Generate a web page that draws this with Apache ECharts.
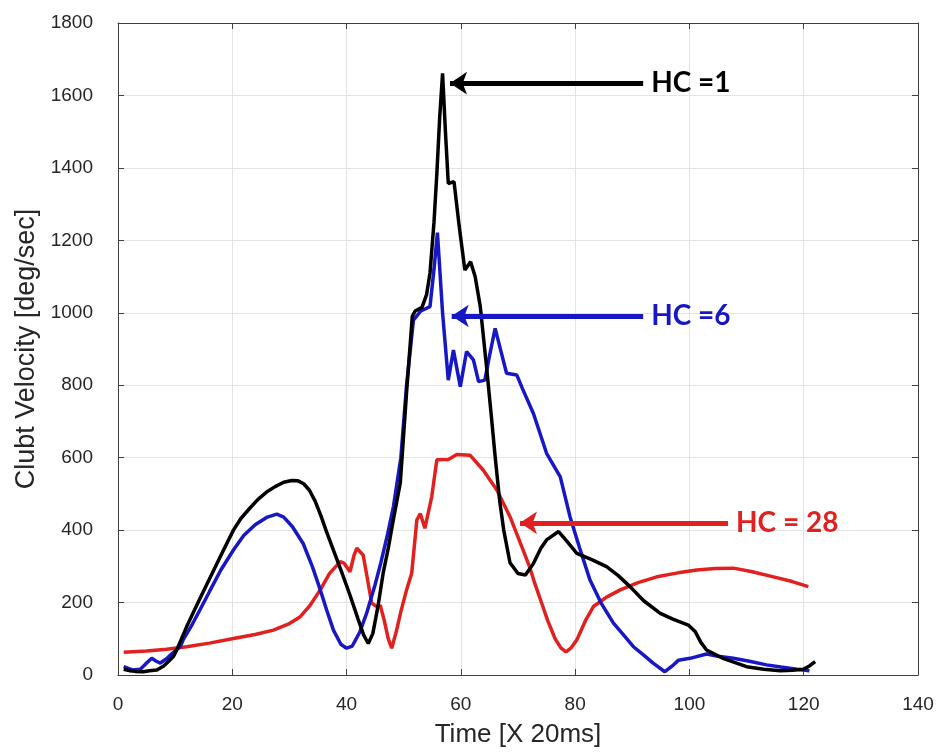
<!DOCTYPE html>
<html>
<head>
<meta charset="utf-8">
<script src="https://cdn.jsdelivr.net/npm/echarts@6/dist/echarts.min.js"></script>
<style>html,body{margin:0;padding:0;background:#fff}#c{width:938px;height:753px}</style>
</head>
<body>
<div id="c"></div>
<script>
// ---- data: [time (x20ms), velocity deg/sec] ----
var xTicks = [0, 20, 40, 60, 80, 100, 120, 140];
var yTicks = [0, 200, 400, 600, 800, 1000, 1200, 1400, 1600, 1800];

var hc1 = [[1,16],[2,12],[3,10],[4.4,9],[5.5,12],[6.8,14],[8,25],[9,40],[9.7,51],[10.3,70],[12,133],[14.3,210],[16,265],[18,330],[20.2,400],[21.5,432],[23.1,461],[24.5,485],[26,505],[27.5,520],[29,532],[30.4,537],[31.5,536],[32.5,528],[33.5,510],[34.5,480],[35.5,440],[36.5,395],[37.7,345],[39,290],[40.5,225],[42,155],[43,110],[43.8,87],[44.6,115],[45.5,190],[46.4,281],[47.3,350],[48.2,430],[49.4,530],[50.5,780],[51.5,990],[52,1005],[53.2,1015],[54,1050],[54.6,1110],[55.3,1250],[55.8,1385],[56.3,1540],[56.8,1661],[57.3,1500],[57.8,1357],[58.8,1362],[59.7,1240],[60.7,1118],[61.7,1141],[62.5,1100],[63.4,1017],[64.5,850],[65.3,720],[66,603],[66.8,480],[67.5,400],[68.6,310],[70,280],[71.3,276],[72.7,308],[74,350],[75,373],[77.1,396],[78.5,370],[80.3,336],[83,318],[85.5,299],[87.5,275],[89.6,244],[92,205],[94.9,170],[97,155],[99.8,138],[101,120],[102,90],[103,69],[106,45],[110,23],[113,16],[115.9,12],[118,13],[119.9,16],[121,25],[122,37]];

var hc6 = [[1,23],[2.5,14],[3.9,16],[4.8,30],[5.9,46],[6.7,38],[7.4,33],[8.5,45],[9.5,60],[10.9,78],[11.4,97],[13,140],[14.35,180],[16,230],[18,290],[20.2,345],[22,385],[24,415],[26,435],[27.8,444],[29,436],[30.5,410],[32.4,363],[34,300],[35.4,235],[36.5,180],[37.7,124],[39,85],[40,74],[41,80],[42.3,118],[43.5,170],[45,250],[46,310],[47.2,390],[48.2,465],[49.5,600],[50.5,800],[51.7,980],[53,1005],[54.6,1017],[55.3,1120],[55.9,1221],[56.8,1000],[57.8,814],[58.7,897],[59.9,796],[61,893],[62.2,870],[63.1,810],[64.2,814],[65,880],[66,957],[67,895],[68,833],[69.8,828],[70.8,790],[72.7,722],[75,612],[77.4,547],[79.1,437],[80.8,350],[82.6,262],[84.5,200],[86.7,143],[88.5,110],[90.2,78],[92,55],[93.7,32],[95.7,9],[97,25],[98.1,41],[100.1,46],[103,58],[105,52],[107.7,46],[110.5,38],[113.5,28],[116,22],[118.8,16],[121,12]];

var hc28 = [[1,63],[5,66],[8.5,71],[12,78],[16,88],[20.2,101],[24,112],[27.2,124],[30,142],[31.9,161],[33.5,190],[35.4,235],[37,280],[38.9,313],[39.6,308],[40.6,285],[41.3,330],[41.8,350],[42.9,331],[43.6,270],[44.4,198],[45.3,189],[45.9,192],[46.6,150],[47.3,100],[47.9,74],[48.7,120],[49.5,175],[50.5,235],[51.4,281],[52.3,428],[52.9,446],[53.7,405],[54.9,492],[55.8,594],[57.8,595],[59.3,609],[61.6,607],[63.9,566],[66.3,511],[68.6,437],[70.9,345],[72,300],[73,250],[74,205],[75.2,150],[76.5,100],[77.5,75],[78.4,64],[79.3,75],[80.3,97],[81.8,150],[83.2,189],[85.5,215],[87.9,235],[91,255],[94.3,271],[98,282],[101.3,290],[104.5,294],[107.7,295],[111,285],[114.7,271],[118,258],[120.8,244]];

// annotation arrows: [tipX, endX, y, label]
var ann1 = [58.1, 91.9, 1634, 'HC =1'];
var ann6 = [58.4, 91.9, 991, 'HC =6'];
var ann28 = [70.35, 106.75, 420, 'HC = 28'];

var BLACK = '#000000', BLUE = '#1717c4', RED = '#e0211f';

function arrow(a, color) {
  return {
    silent: true,
    animation: false,
    symbol: ['arrow', 'none'],
    symbolSize: 17,
    lineStyle: { color: color, width: 5, type: 'solid' },
    itemStyle: { color: color },
    label: {
      show: true, position: 'end', distance: 8,
      formatter: a[3], color: color,
      fontFamily: 'Lato', fontWeight: 'bold', fontSize: 28
    },
    emphasis: { disabled: true },
    data: [[
      { coord: [a[0], a[2]], symbol: 'arrow', symbolSize: 17 },
      { coord: [a[1], a[2]], symbol: 'none' }
    ]]
  };
}

function lineSeries(name, data, color, ann) {
  return {
    name: name, type: 'line', data: data, showSymbol: false, symbol: 'none',
    lineStyle: { color: color, width: 3.5 }, itemStyle: { color: color },
    animation: false, z: 3,
    markLine: arrow(ann, color)
  };
}

var chart = echarts.init(document.getElementById('c'), null, { renderer: 'canvas' });
var labelFont = { fontFamily: 'Liberation Sans', fontSize: 19, color: '#262626', formatter: function (v) { return String(v); } };
chart.setOption({
  backgroundColor: '#ffffff',
  grid: { left: 118, right: 20, top: 23, bottom: 78, containLabel: false },
  xAxis: [{
    type: 'value', min: xTicks[0], max: xTicks[xTicks.length - 1], interval: 20,
    name: 'Time [X 20ms]', nameLocation: 'middle', nameGap: 47,
    nameTextStyle: { fontFamily: 'Liberation Sans', fontSize: 26, color: '#262626' },
    axisLine: { show: true, onZero: false, lineStyle: { color: '#404040', width: 1 } },
    axisTick: { show: true, inside: true, length: 6, lineStyle: { color: '#404040' } },
    axisLabel: Object.assign({ margin: 20 }, labelFont),
    splitLine: { show: true, lineStyle: { color: '#e3e3e3', width: 1 } }
  }, {
    type: 'value', position: 'top', min: 0, max: 140, interval: 20,
    axisLine: { show: true, onZero: false, lineStyle: { color: '#404040', width: 1 } },
    axisTick: { show: true, inside: true, length: 6, lineStyle: { color: '#404040' } },
    axisLabel: { show: false }, splitLine: { show: false }
  }],
  yAxis: [{
    type: 'value', min: yTicks[0], max: yTicks[yTicks.length - 1], interval: 200,
    name: 'Clubt Velocity [deg/sec]', nameLocation: 'middle', nameGap: 77, nameRotate: 90,
    nameTextStyle: { fontFamily: 'Liberation Sans', fontSize: 27, color: '#262626' },
    axisLine: { show: true, onZero: false, lineStyle: { color: '#404040', width: 1 } },
    axisTick: { show: true, inside: true, length: 6, lineStyle: { color: '#404040' } },
    axisLabel: Object.assign({ margin: 25 }, labelFont),
    splitLine: { show: true, lineStyle: { color: '#e3e3e3', width: 1 } }
  }, {
    type: 'value', position: 'right', min: 0, max: 1800, interval: 200,
    axisLine: { show: true, onZero: false, lineStyle: { color: '#404040', width: 1 } },
    axisTick: { show: true, inside: true, length: 6, lineStyle: { color: '#404040' } },
    axisLabel: { show: false }, splitLine: { show: false }
  }],
  series: [
    lineSeries('HC = 28', hc28, RED, ann28),
    lineSeries('HC =6', hc6, BLUE, ann6),
    lineSeries('HC =1', hc1, BLACK, ann1)
  ]
});
</script>
</body>
</html>
